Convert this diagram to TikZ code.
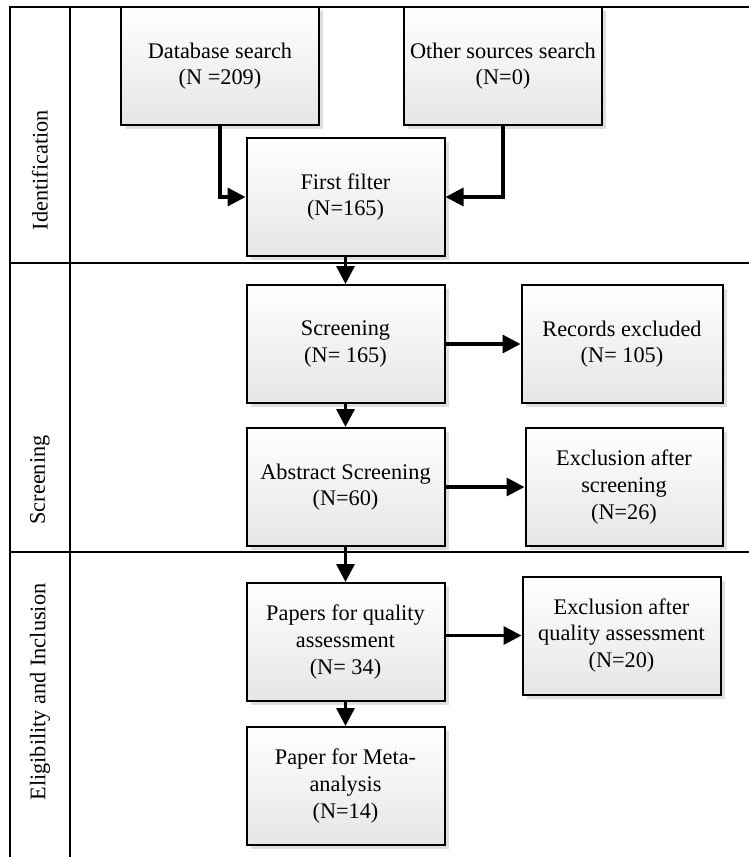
\documentclass[tikz,border=0pt]{standalone}
\usepackage{fontspec}
\setmainfont{Liberation Serif}
\usepackage{tikz}
\usetikzlibrary{arrows.meta, positioning, shadows}

\begin{document}
\begin{tikzpicture}[
    x=1pt, y=-1pt,
    font=\fontsize{22.3}{26.7}\selectfont,
    node distance=25pt and 80pt,
    box/.style={
        draw,
        line width=2pt,
        align=center,
        minimum width=198pt,
        minimum height=118pt,
        top color=white,
        bottom color=gray!20,
        drop shadow={shadow xshift=4pt, shadow yshift=-4pt, fill=gray!35, opacity=0.7}
    },
    lane/.style={rotate=90, anchor=center},
    frame/.style={draw, line width=1.8pt},
    line/.style={draw, line width=3.4pt, -{Triangle[length=18pt, width=18pt]}}
]
\useasboundingbox (0,0) rectangle (749,857);

% swimlanes
\draw[frame] (10,857) |- (749,7);
\draw[frame] (70,7) -- (70,857);
\draw[frame] (10,263) -- (749,263);
\draw[frame] (10,552) -- (749,552);

\node[lane] (lid) at (40,170) {Identification};
\node[lane] (lscr) at (40,480) {Screening};
\node[lane] (lelig) at (40,692) {Eligibility and Inclusion};

% boxes
\node[box] (db) at (220,66) {Database search\\(N =209)};
\node[box, right=83pt of db] (other) {Other sources search\\(N=0)};
\node[box] (filter) at (345.5,197) {First filter\\(N=165)};

\node[box, below=27pt of filter] (screen) {Screening\\(N= 165)};
\node[box, below=23pt of screen] (abs) {Abstract Screening\\(N=60)};
\node[box, below=35pt of abs] (qual) {Papers for quality\\assessment\\(N= 34)};
\node[box, below=24pt of qual] (meta) {Paper for Meta-\\analysis\\(N=14)};

\node[box, minimum width=201pt, right=75pt of screen] (rec) {Records excluded\\(N= 105)};
\node[box, minimum width=197pt, right=79pt of abs] (exscr) {Exclusion after\\screening\\(N=26)};
\node[box, right=76pt of qual, yshift=6.5pt] (exqual) {Exclusion after\\quality assessment\\(N=20)};

% arrows
\draw[line] (db) |- (filter);
\draw[line] (other) |- (filter);
\draw[line] (filter) -- (screen);
\draw[line] (screen) -- (rec);
\draw[line] (screen) -- (abs);
\draw[line] (abs) -- (exscr);
\draw[line] (abs) -- (qual);
\draw[line] (qual.east |- exqual) -- (exqual);
\draw[line] (qual) -- (meta);

\end{tikzpicture}
\end{document}
